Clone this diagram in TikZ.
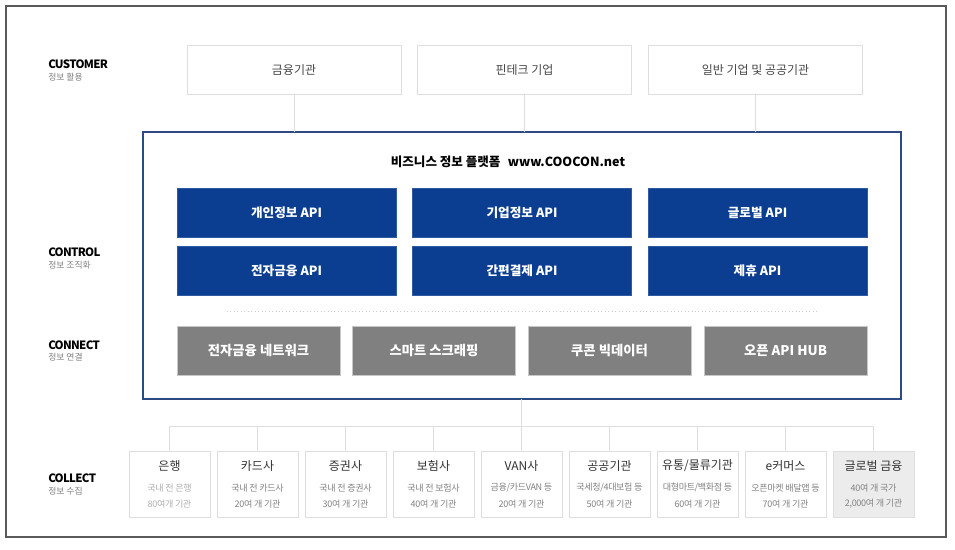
\documentclass[tikz,border=0pt]{standalone}
\usepackage{fontspec}
\setmainfont{Noto Sans CJK KR}
\newfontfamily\labfont{Noto Sans CJK KR}[LetterSpace=-6]
\newfontfamily\subfont{Noto Sans CJK KR}[LetterSpace=-4]
\definecolor{navy}{RGB}{11,62,145}
\definecolor{pborder}{RGB}{45,75,130}
\definecolor{gbox}{RGB}{128,128,128}
\definecolor{lline}{RGB}{222,222,222}
\definecolor{framec}{RGB}{90,90,90}
\definecolor{subc}{RGB}{130,130,130}
\definecolor{subl}{RGB}{175,175,175}
\definecolor{glob}{RGB}{236,236,236}
\newcommand\mkcol[6]{%
  \node[colbox,#6] (b#1) at (#2,484) {};
  \node[ctitle] (b#1t) at (#2,466) {#3};
  \node[csub] (b#1s) at (#2,488) {#4};
  \node[csub] (b#1u) at (#2,504) {#5};}
\begin{document}
\begin{tikzpicture}[x=0.75pt,y=-0.75pt,
  sz/.style 2 args={minimum width={#1*0.75pt},minimum height={#2*0.75pt},inner sep=0pt,outer sep=0pt},
  cust/.style={draw=lline,line width=0.75pt,fill=white,sz={214}{49},text=black!72,font=\fontsize{9}{11}\selectfont},
  conn/.style={draw=lline,line width=0.75pt},
  platform/.style={draw=pborder,line width=1.4pt,fill=white,sz={758}{267}},
  api/.style={fill=navy,draw=navy!85!white,line width=0.5pt,sz={219}{49},text=white,font=\bfseries\fontsize{9.5}{11}\selectfont},
  net/.style={fill=gbox,draw=black!22,line width=0.5pt,sz={163}{49},text=white,font=\bfseries\fontsize{10}{12}\selectfont},
  colbox/.style={draw=lline,line width=0.75pt,fill=white,sz={81}{66}},
  ctitle/.style={inner sep=0pt,text=black!80,font=\fontsize{9}{10}\selectfont},
  csub/.style={inner sep=0pt,text=subc,font=\subfont\fontsize{6.8}{8}\selectfont},
  lab/.style={anchor=west,inner sep=0pt,font=\labfont\bfseries\fontsize{8.6}{10}\selectfont},
  labk/.style={anchor=west,inner sep=0pt,text=black!50,font=\fontsize{6.6}{8}\selectfont}]
\useasboundingbox (0,0) rectangle (955,549);
\fill[white] (0,0) rectangle (955,549);
\draw[framec,line width=1.1pt] (6,6) rectangle (946,537);

% left labels
\node[lab] (l1) at (48,64.5) {CUSTOMER};
\node[labk] (l1k) at (48,77) {정보 활용};
\node[lab] (l2) at (48,252) {CONTROL};
\node[labk] (l2k) at (48,265) {정보 조직화};
\node[lab] (l3) at (48,345) {CONNECT};
\node[labk] (l3k) at (48,357.5) {정보 연결};
\node[lab] (l4) at (48,478) {COLLECT};
\node[labk] (l4k) at (48,491) {정보 수집};

% customers
\node[cust] (c1) at (294,70.5) {금융기관};
\node[cust] (c2) at (524.5,70.5) {핀테크 기업};
\node[cust] (c3) at (755.5,70.5) {일반 기업 및 공공기관};

% platform
\node[platform] (P) at (522,265.5) {};
\draw[conn] (c1.south) -- (c1.south |- P.north);
\draw[conn] (c2.south) -- (c2.south |- P.north);
\draw[conn] (c3.south) -- (c3.south |- P.north);
\node[inner sep=0pt,font=\bfseries\fontsize{9.4}{12}\selectfont] (ttl) at (508,162) {비즈니스 정보 플랫폼\hspace{0.6em}www.COOCON.net};

\node[api] (a1) at (286.5,213) {개인정보 API};
\node[api] (a2) at (522,213) {기업정보 API};
\node[api] (a3) at (757.5,213) {글로벌 API};
\node[api] (a4) at (286.5,270.5) {전자금융 API};
\node[api] (a5) at (522,270.5) {간편결제 API};
\node[api] (a6) at (757.5,270.5) {제휴 API};

\coordinate (d1) at (227,311);
\coordinate (d2) at (818,311);
\draw[black!20,dotted,line width=0.6pt] (d1) -- (d2);

\node[net] (n1) at (258.5,350.5) {전자금융 네트워크};
\node[net] (n2) at (434,350.5) {스마트 스크래핑};
\node[net] (n3) at (609.5,350.5) {쿠콘 빅데이터};
\node[net] (n4) at (785.5,350.5) {오픈 API HUB};

% collect
\mkcol{1}{169.5}{은행}{\textcolor{subl}{국내 전 은행}}{\textcolor{subl}{80여개 기관}}{}
\mkcol{2}{257.5}{카드사}{국내 전 카드사}{20여 개 기관}{}
\mkcol{3}{345.5}{증권사}{국내 전 증권사}{30여 개 기관}{}
\mkcol{4}{433.5}{보험사}{국내 전 보험사}{40여 개 기관}{}
\mkcol{5}{521.5}{VAN사}{금융/카드VAN 등}{20여 개 기관}{}
\mkcol{6}{609.5}{공공기관}{국세청/4대보험 등}{50여 개 기관}{}
\mkcol{7}{697.5}{유통/물류기관}{대형마트/백화점 등}{60여 개 기관}{}
\mkcol{8}{785.5}{e커머스}{오픈마켓 배달앱 등}{70여 개 기관}{}
\mkcol{9}{873.5}{글로벌 금융}{40여 개 국가}{2,000여 개 기관}{fill=glob}

\coordinate (hl) at (0,426);
\draw[conn] (P.south -| b5.north) -- (b5.north);
\draw[conn] (b1.north) -- (b1.north |- hl) -- (b9.north |- hl) -- (b9.north);
\foreach \i in {2,3,4,6,7,8} { \draw[conn] (b\i.north) -- (b\i.north |- hl); }
\end{tikzpicture}
\end{document}
